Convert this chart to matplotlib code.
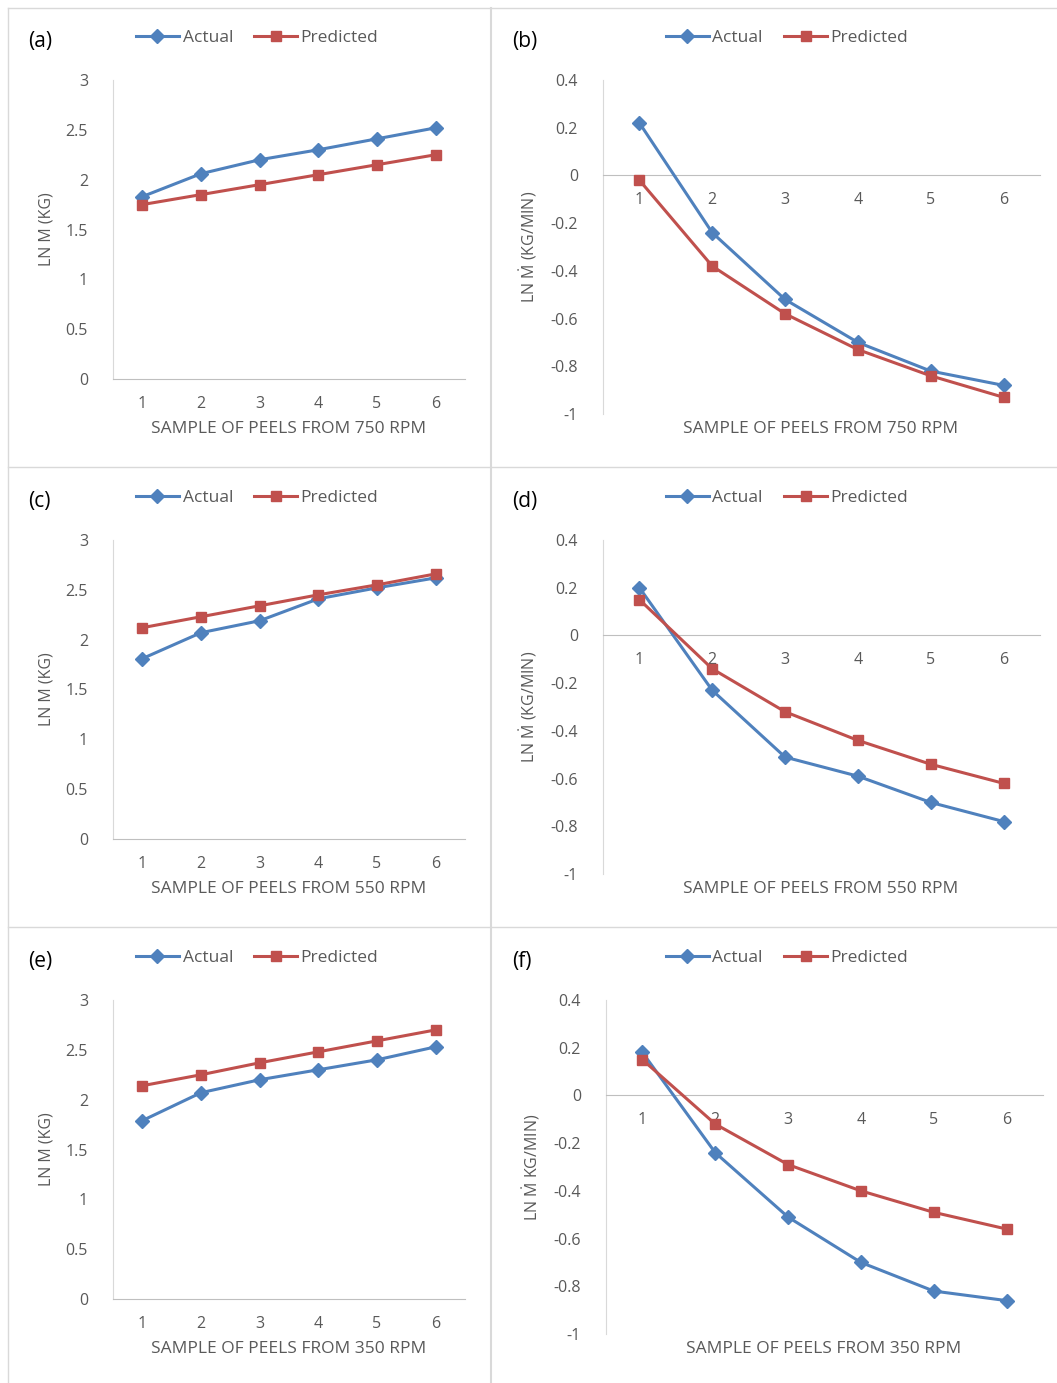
import matplotlib
matplotlib.use("Agg")
import matplotlib.pyplot as plt
from matplotlib.lines import Line2D

plt.rcParams['font.family'] = ['Open Sans', 'DejaVu Sans']
plt.rcParams['mathtext.fontset'] = 'custom'
plt.rcParams['mathtext.rm'] = 'Open Sans'

samples = [1, 2, 3, 4, 5, 6]
rpms = ["750", "550", "350"]

mass_actual = [
    [1.83, 2.06, 2.20, 2.30, 2.41, 2.52],
    [1.81, 2.07, 2.19, 2.41, 2.52, 2.62],
    [1.79, 2.07, 2.20, 2.30, 2.40, 2.53],
]
mass_pred = [
    [1.75, 1.85, 1.95, 2.05, 2.15, 2.25],
    [2.12, 2.23, 2.34, 2.45, 2.55, 2.66],
    [2.14, 2.25, 2.37, 2.48, 2.59, 2.70],
]
rate_actual = [
    [0.22, -0.24, -0.52, -0.70, -0.82, -0.88],
    [0.20, -0.23, -0.51, -0.59, -0.70, -0.78],
    [0.18, -0.24, -0.51, -0.70, -0.82, -0.86],
]
rate_pred = [
    [-0.02, -0.38, -0.58, -0.73, -0.84, -0.93],
    [0.15, -0.14, -0.32, -0.44, -0.54, -0.62],
    [0.15, -0.12, -0.29, -0.40, -0.49, -0.56],
]
left_letters = ["(a)", "(c)", "(e)"]
right_letters = ["(b)", "(d)", "(f)"]
MDOT = r"$\dot{\mathrm{M}}$"
rate_ylabels = [f"LN {MDOT} (KG/MIN)", f"LN {MDOT} (KG/MIN)", f"LN {MDOT} KG/MIN)"]

BLUE = "#4F81BD"
RED = "#C0504D"
TXT = "#595959"
AX = "#BFBFBF"
W, H = 1057, 1383

fig = plt.figure(figsize=(W / 100, H / 100), dpi=100)


def px_axes(x0, y0, x1, y1):
    return fig.add_axes([x0 / W, 1 - y1 / H, (x1 - x0) / W, (y1 - y0) / H])


def style(ax):
    for s in ["top", "right"]:
        ax.spines[s].set_visible(False)
    ax.spines["left"].set_color("#D9D9D9")
    ax.spines["bottom"].set_color(AX)
    ax.tick_params(length=0, colors=TXT, labelsize=11.5)
    ax.set_xlim(0.5, 6.5)
    ax.set_xticks(samples)


def draw(ax, a, p):
    ax.plot(samples, a, color=BLUE, lw=2.2, marker="D", ms=7, clip_on=False, zorder=3)
    ax.plot(samples, p, color=RED, lw=2.2, marker="s", ms=7, clip_on=False, zorder=3)


def legend(x, y):
    handles = [Line2D([], [], color=BLUE, lw=2.2, marker="D", ms=7),
               Line2D([], [], color=RED, lw=2.2, marker="s", ms=7)]
    fig.legend(handles, ["Actual", "Predicted"], loc="center left",
               bbox_to_anchor=(x / W, 1 - y / H), ncol=2, frameon=False,
               fontsize=12.5, labelcolor=TXT, handlelength=2.5,
               handletextpad=0.2, columnspacing=1.2)


def label_x(x, y, s):
    fig.text(x / W, 1 - y / H, s, color=TXT, fontsize=12.5, ha="center", va="center")


for i in range(3):
    off = i * 460
    # left: mass
    ax = px_axes(113, 80 + off, 465, 379 + off)
    style(ax)
    draw(ax, mass_actual[i], mass_pred[i])
    ax.set_ylim(0, 3)
    ax.set_yticks([0, 0.5, 1, 1.5, 2, 2.5, 3])
    ax.set_yticklabels(["0", "0.5", "1", "1.5", "2", "2.5", "3"])
    ax.tick_params(axis="y", pad=18)
    ax.tick_params(axis="x", pad=12)
    ax.set_ylabel("LN M (KG)", color=TXT, fontsize=11.5, labelpad=8)
    label_x(289, 429 + off, f"SAMPLE OF PEELS FROM {rpms[i]} RPM")
    fig.text(28 / W, 1 - (42 + off) / H, left_letters[i], fontsize=15, va="center")
    legend(120, 38 + off)

    # right: rate
    xs = 3 if i == 2 else 0
    ax = px_axes(603 + xs, 80 + off, 1040 + xs, 414 + off)
    style(ax)
    ax.spines["bottom"].set_position(("data", 0))
    draw(ax, rate_actual[i], rate_pred[i])
    ax.set_ylim(-1, 0.4)
    ax.set_yticks([-1, -0.8, -0.6, -0.4, -0.2, 0, 0.2, 0.4])
    ax.set_yticklabels(["-1", "-0.8", "-0.6", "-0.4", "-0.2", "0", "0.2", "0.4"])
    ax.tick_params(axis="y", pad=18)
    ax.tick_params(axis="x", pad=12)
    ax.set_ylabel(rate_ylabels[i], color=TXT, fontsize=11.5, labelpad=8)
    label_x(821 + xs, 429 + off, f"SAMPLE OF PEELS FROM {rpms[i]} RPM")
    fig.text(512 / W, 1 - (42 + off) / H, right_letters[i], fontsize=15, va="center")
    legend(650, 38 + off)

# panel separators
for y in [8, 467, 927]:
    fig.add_artist(Line2D([8 / W, 1], [1 - y / H] * 2, color="#D9D9D9", lw=1))
fig.add_artist(Line2D([491 / W] * 2, [0, 1 - 8 / H], color="#D9D9D9", lw=1.5))
fig.add_artist(Line2D([8 / W] * 2, [0, 1 - 8 / H], color="#D9D9D9", lw=1))

fig.savefig("out.png", dpi=100)
plt.close(fig)
